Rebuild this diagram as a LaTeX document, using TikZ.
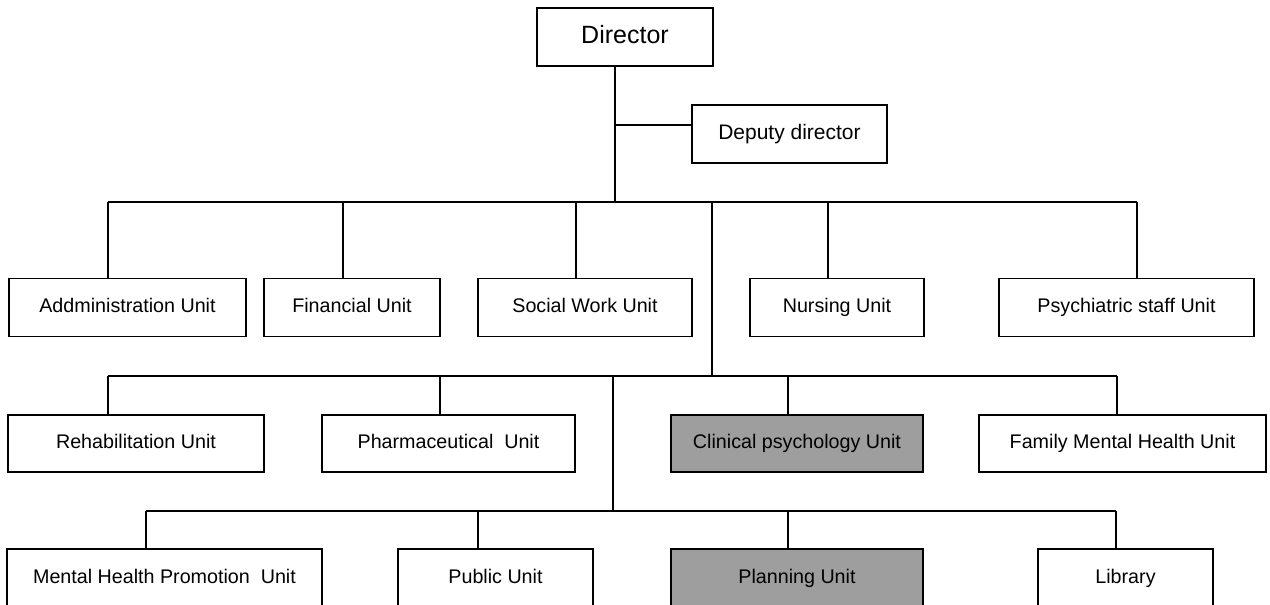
\documentclass[tikz,border=0pt]{standalone}
\usepackage{fontspec}
\setmainfont{Liberation Sans}
\begin{document}
\begin{tikzpicture}[x=1pt, y=-1pt, line width=1.5pt,
		unit/.style={draw, inner sep=0pt, minimum height=58pt, text height=14pt, text depth=4pt, font=\fontsize{19.7}{22}\selectfont},
		grayunit/.style={unit, fill=black!38}]
	\useasboundingbox (0,0) rectangle (1270,605);
	\node[unit, minimum width=176pt, text height=18pt, text depth=5pt, font=\fontsize{25}{28}\selectfont] (dir) at (625,37) {Director};
	\node[unit, minimum width=195pt, text height=15pt, text depth=4.5pt, font=\fontsize{21}{24}\selectfont] (dep) at (789.5,134) {Deputy director};
	% first row
	\node[unit, minimum width=237pt] (adm) at (127.5,307.5) {Addministration Unit};
	\node[unit, minimum width=176pt] (fin) at (352,307.5) {Financial Unit};
	\node[unit, minimum width=214pt] (soc) at (585,307.5) {Social Work Unit};
	\node[unit, minimum width=174pt] (nur) at (837,307.5) {Nursing Unit};
	\node[unit, minimum width=255pt] (psy) at (1126.5,307.5) {Psychiatric staff Unit};
	% second row
	\node[unit, minimum width=256pt, minimum height=57pt] (reh) at (136,443.5) {Rehabilitation Unit};
	\node[unit, minimum width=253pt, minimum height=57pt] (pha) at (448.5,443.5) {Pharmaceutical\ \ Unit};
	\node[grayunit, minimum width=252pt, minimum height=57pt] (cli) at (797,443.5) {Clinical psychology Unit};
	\node[unit, minimum width=287pt, minimum height=57pt] (fam) at (1122.5,443.5) {Family Mental Health Unit};
	% third row
	\node[unit, minimum width=315pt] (mhp) at (164.5,578) {Mental Health Promotion\ \ Unit};
	\node[unit, minimum width=195pt] (pub) at (495.5,578) {Public Unit};
	\node[grayunit, minimum width=252pt] (pla) at (797,578) {Planning Unit};
	\node[unit, minimum width=175pt] (lib) at (1125.5,578) {Library};
	% trunks
	\coordinate (ta) at (615,202);
	\coordinate (tb) at (712,376);
	\coordinate (tc) at (613,511);
	\coordinate (jd) at (615,125);
	\draw (dir.south -| ta) -- (ta);
	\draw (jd) -- (jd -| dep.west);
	\draw (tb |- ta) -- (tb);
	\draw (tc |- tb) -- (tc);
	% buses and drops
	\draw (108,202) -- (1137,202);
	\foreach \n/\x in {adm/108, fin/343, soc/576, nur/828, psy/1137}
		\draw (\n.north -| \x,0) -- (\x,202);
	\draw (108,376) -- (1117,376);
	\foreach \n/\x in {reh/108, pha/440, cli/788, fam/1117}
		\draw (\n.north -| \x,0) -- (\x,376);
	\draw (146,511) -- (1116,511);
	\foreach \n/\x in {mhp/146, pub/478, pla/788, lib/1116}
		\draw (\n.north -| \x,0) -- (\x,511);
\end{tikzpicture}
\end{document}
